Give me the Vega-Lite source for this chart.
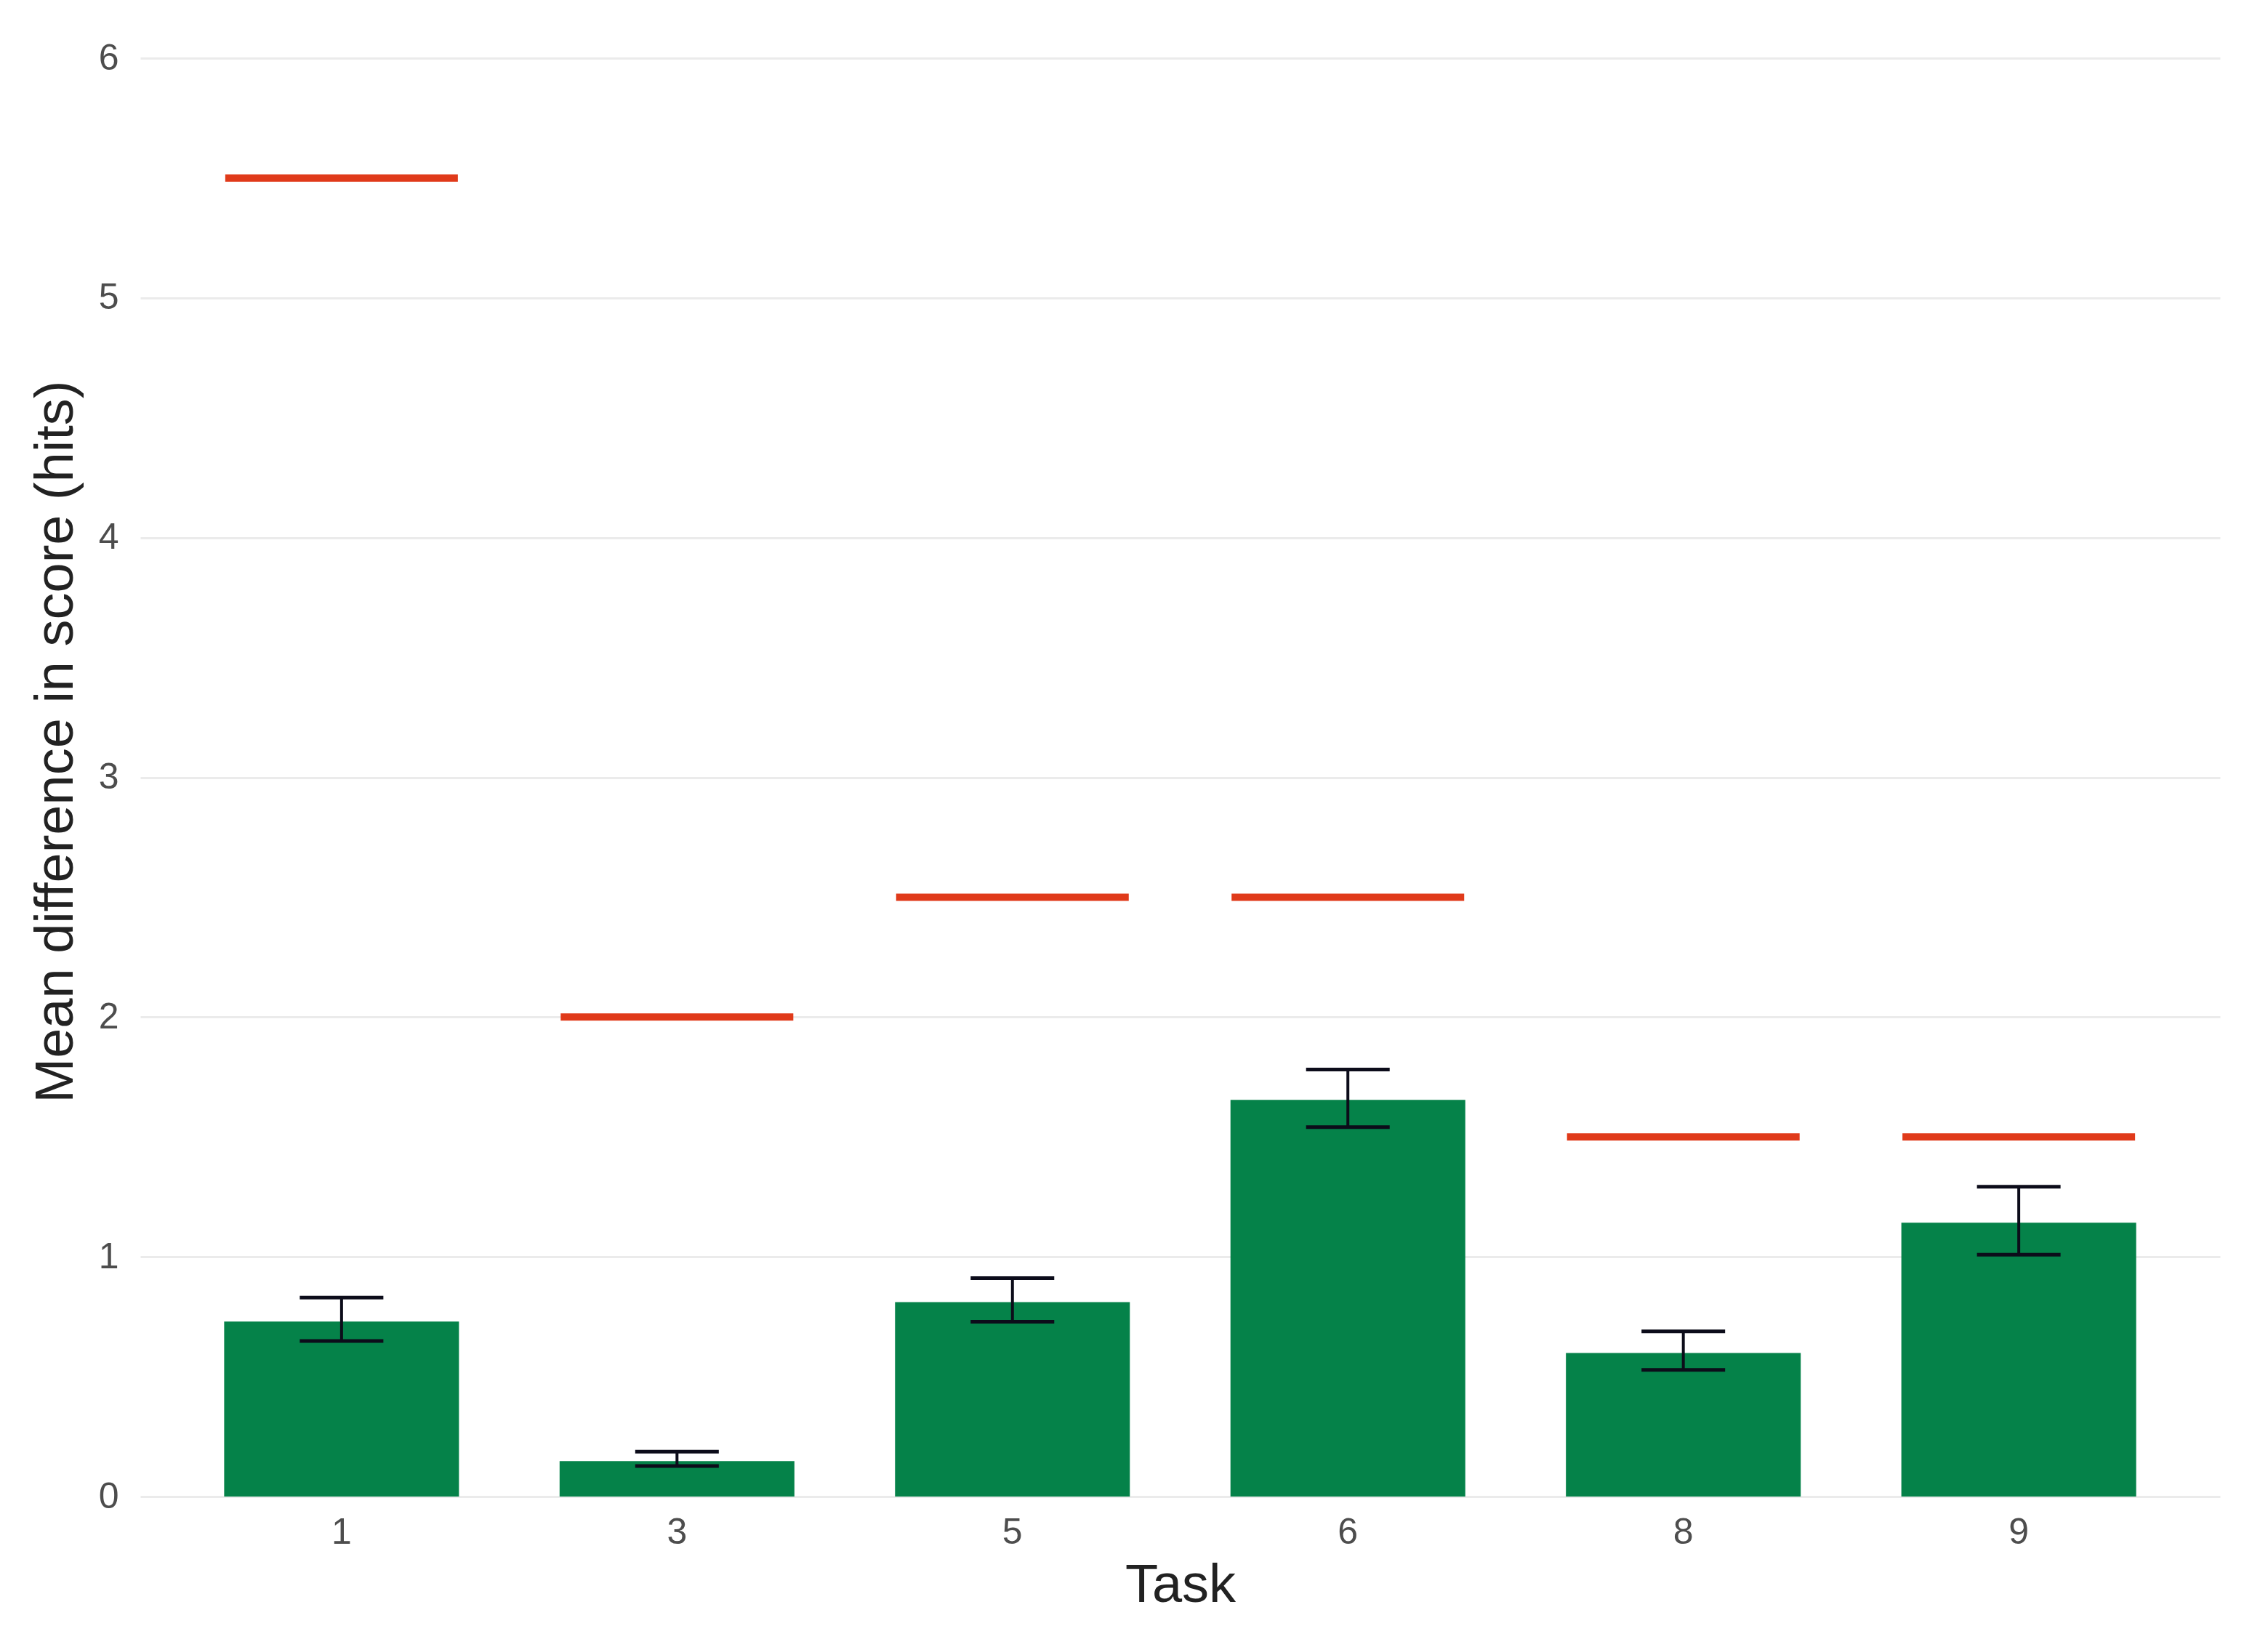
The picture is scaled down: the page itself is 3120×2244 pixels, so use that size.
{
  "$schema": "https://vega.github.io/schema/vega-lite/v6.json",
  "autosize": {"type": "none"},
  "width": 2861,
  "height": 1979,
  "padding": {"left": 193, "top": 80, "right": 66, "bottom": 185},
  "background": "white",
  "config": {
    "view": {"stroke": null},
    "font": "Liberation Sans",
    "tick": {"opacity": 1},
    "axis": {
      "domain": false,
      "ticks": false,
      "labelFont": "Liberation Sans",
      "titleFont": "Liberation Sans",
      "labelFontSize": 50,
      "titleFontSize": 74,
      "labelColor": "#4D4D4D",
      "titleColor": "#222222",
      "titleFontWeight": "normal",
      "gridColor": "#EBEBEB",
      "gridWidth": 3
    }
  },
  "data": {
    "values": [
      {"task": "1", "mean": 0.73, "lo": 0.649, "hi": 0.83, "target": 5.5},
      {"task": "3", "mean": 0.148, "lo": 0.127, "hi": 0.187, "target": 2.0},
      {"task": "5", "mean": 0.811, "lo": 0.729, "hi": 0.911, "target": 2.5},
      {"task": "6", "mean": 1.655, "lo": 1.541, "hi": 1.781, "target": 2.5},
      {"task": "8", "mean": 0.599, "lo": 0.528, "hi": 0.689, "target": 1.5},
      {"task": "9", "mean": 1.142, "lo": 1.009, "hi": 1.292, "target": 1.5}
    ]
  },
  "encoding": {
    "x": {
      "field": "task",
      "type": "nominal",
      "sort": null,
      "scale": {"paddingInner": 0.3, "paddingOuter": 0.25},
      "axis": {"title": "Task", "labelAngle": 0, "labelPadding": 24, "titlePadding": 12, "grid": false}
    }
  },
  "layer": [
    {
      "mark": {"type": "bar", "color": "#058249"},
      "encoding": {
        "y": {
          "field": "mean",
          "type": "quantitative",
          "scale": {"domain": [0, 6], "nice": false},
          "axis": {"title": "Mean difference in score (hits)", "values": [0, 1, 2, 3, 4, 5, 6], "format": "d", "labelPadding": 30, "titlePadding": 20, "titleY": 940, "grid": true}
        }
      }
    },
    {
      "mark": {"type": "rule", "color": "#0C0C1A", "strokeWidth": 4},
      "encoding": {
        "y": {"field": "lo", "type": "quantitative"},
        "y2": {"field": "hi"}
      }
    },
    {
      "mark": {"type": "tick", "color": "#0C0C1A", "size": 115, "thickness": 5},
      "encoding": {"y": {"field": "lo", "type": "quantitative"}}
    },
    {
      "mark": {"type": "tick", "color": "#0C0C1A", "size": 115, "thickness": 5},
      "encoding": {"y": {"field": "hi", "type": "quantitative"}}
    },
    {
      "mark": {"type": "tick", "color": "#E03A1A", "size": 320, "thickness": 10},
      "encoding": {"y": {"field": "target", "type": "quantitative"}}
    }
  ]
}
